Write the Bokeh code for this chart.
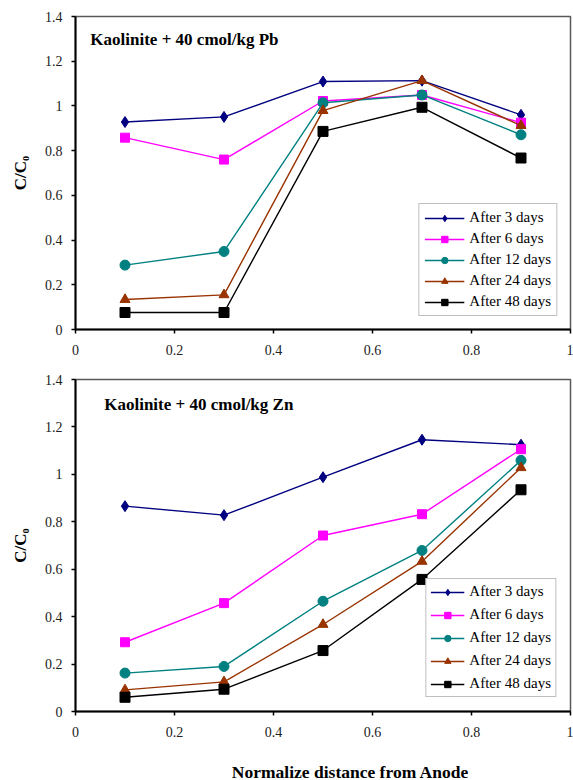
from bokeh.plotting import figure
from bokeh.layouts import column
from bokeh.models import FixedTicker, Legend, LegendItem, Label, Range1d
from bokeh.embed import file_html
from bokeh.resources import INLINE

# ---------------- data ----------------
distance = [0.1, 0.3, 0.5, 0.7, 0.9]
series_names = ["After 3 days", "After 6 days", "After 12 days", "After 24 days", "After 48 days"]

pb_3 = [0.928, 0.951, 1.109, 1.113, 0.960]
pb_6 = [0.858, 0.760, 1.022, 1.049, 0.925]
pb_12 = [0.288, 0.349, 1.014, 1.049, 0.871]
pb_24 = [0.134, 0.155, 0.979, 1.113, 0.912]
pb_48 = [0.076, 0.076, 0.886, 0.994, 0.767]

zn_3 = [0.866, 0.828, 0.988, 1.146, 1.125]
zn_6 = [0.292, 0.457, 0.742, 0.832, 1.106]
zn_12 = [0.162, 0.190, 0.465, 0.679, 1.059]
zn_24 = [0.091, 0.125, 0.367, 0.633, 1.028]
zn_48 = [0.060, 0.094, 0.257, 0.557, 0.935]

x_ticks = [0, 0.2, 0.4, 0.6, 0.8, 1]
x_tick_labels = ["0", "0.2", "0.4", "0.6", "0.8", "1"]
y_ticks = [0, 0.2, 0.4, 0.6, 0.8, 1, 1.2, 1.4]
y_tick_labels = ["0", "0.2", "0.4", "0.6", "0.8", "1", "1.2", "1.4"]

title_pb = "Kaolinite + 40 cmol/kg Pb"
title_zn = "Kaolinite + 40 cmol/kg Zn"
y_title = "C/C\u2080"
x_title = "Normalize distance from Anode"

# ---------------- styles ----------------
colors = ["#000080", "#FF00FF", "#008080", "#993300", "#000000"]
markers = ["diamond", "square", "circle", "triangle", "square"]
sizes = [11, 9, 10, 10, 10]
FONT = "'Liberation Serif', 'Times New Roman', 'DejaVu Serif', serif"
W = 573


def make_fig(series, title_text, title_pos, height, border_top, border_bottom,
             border_left, border_right, legend_margin, legend_padding, legend_spacing,
             glyph_w):
    p = figure(width=W, height=height, output_backend="svg", toolbar_location=None,
               x_range=Range1d(0, 1), y_range=Range1d(0, 1.4),
               min_border_top=border_top, min_border_bottom=border_bottom,
               min_border_left=border_left, min_border_right=border_right)
    p.xgrid.visible = False
    p.ygrid.visible = False
    p.outline_line_color = "#595959"
    p.outline_line_width = 1.5
    p.background_fill_color = "white"
    p.border_fill_color = "white"

    for ax, ticks, labels in ((p.xaxis[0], x_ticks, x_tick_labels),
                              (p.yaxis[0], y_ticks, y_tick_labels)):
        ax.ticker = FixedTicker(ticks=ticks)
        ax.major_label_overrides = {t: l for t, l in zip(ticks, labels)}
        ax.axis_line_color = "black"
        ax.axis_line_width = 2
        ax.major_tick_line_color = "black"
        ax.major_tick_line_width = 1.5
        ax.major_tick_in = 0
        ax.major_tick_out = 4
        ax.minor_tick_line_color = None
        ax.major_label_text_font = FONT
        ax.major_label_text_font_size = "14px"
        ax.major_label_text_color = "#222222"
    p.xaxis[0].major_label_standoff = 11
    p.yaxis[0].major_label_standoff = 9
    p.yaxis[0].axis_label = y_title
    p.yaxis[0].axis_label_text_font = FONT
    p.yaxis[0].axis_label_text_font_style = "bold"
    p.yaxis[0].axis_label_text_font_size = "17px"
    p.yaxis[0].axis_label_text_color = "black"
    p.yaxis[0].axis_label_standoff = 12

    items = []
    for name, vals, c, m, s in zip(series_names, series, colors, markers, sizes):
        r1 = p.line(distance, vals, line_color=c, line_width=1.4)
        r2 = p.scatter(distance, vals, marker=m, size=s, fill_color=c, line_color=c)
        items.append(LegendItem(label=name, renderers=[r1, r2]))

    legend = Legend(items=items, location="bottom_right", margin=legend_margin,
                    padding=legend_padding, spacing=legend_spacing,
                    label_height=16, glyph_height=16,
                    glyph_width=glyph_w, label_standoff=5,
                    label_text_font=FONT, label_text_font_size="15px",
                    label_text_color="black",
                    border_line_color="#808080", border_line_width=1.5,
                    background_fill_color="white", background_fill_alpha=1.0)
    p.add_layout(legend)

    p.add_layout(Label(x=title_pos[0], y=title_pos[1], text=title_text,
                       text_font=FONT, text_font_style="bold", text_font_size="17px",
                       text_baseline="middle", text_color="black"))
    return p


p1 = make_fig([pb_3, pb_6, pb_12, pb_24, pb_48], title_pb, (0.030, 1.299),
              height=368, border_top=16, border_bottom=39, border_left=72, border_right=3,
              legend_margin=13, legend_padding=5, legend_spacing=4, glyph_w=40)
p2 = make_fig([zn_3, zn_6, zn_12, zn_24, zn_48], title_zn, (0.058, 1.295),
              height=394, border_top=11, border_bottom=51, border_left=75, border_right=2,
              legend_margin=14, legend_padding=4, legend_spacing=6, glyph_w=34)

# strip holding the shared x-axis title
p3 = figure(width=W, height=18, output_backend="svg", toolbar_location=None,
            x_range=Range1d(0, W), y_range=Range1d(0, 18),
            x_axis_location=None, y_axis_location=None,
            min_border=0, min_border_left=0, min_border_right=0,
            min_border_top=0, min_border_bottom=0)
p3.xgrid.visible = False
p3.ygrid.visible = False
p3.outline_line_color = None
p3.add_layout(Label(x=181, y=9, text=x_title, text_font=FONT, text_font_style="bold",
                    text_font_size="17.5px", text_baseline="middle", text_color="black"))

layout = column(p1, p2, p3, spacing=0)
open("out.html", "w").write(file_html(layout, INLINE))
